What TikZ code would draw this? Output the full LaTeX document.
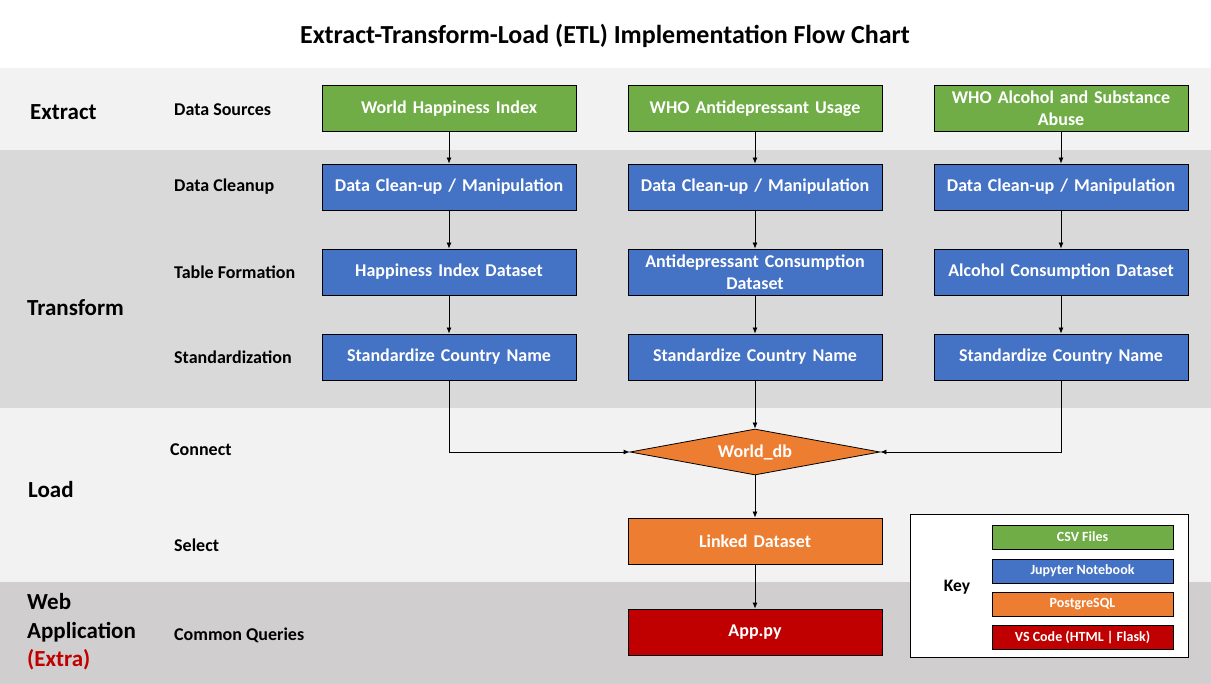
\documentclass[tikz,border=0pt]{standalone}
\usepackage{fontspec}
\setmainfont{Carlito}
\usetikzlibrary{shapes.geometric,arrows.meta}
\definecolor{cgreen}{HTML}{70AD47}
\definecolor{cblue}{HTML}{4472C4}
\definecolor{corange}{HTML}{ED7D31}
\definecolor{cred}{HTML}{C00000}
\definecolor{bandlight}{HTML}{F2F2F2}
\definecolor{banddark}{HTML}{D9D9D9}
\definecolor{bandweb}{HTML}{D0CECE}
\tikzset{
  boxbase/.style={draw=black, line width=0.8pt, minimum width=254pt, minimum height=46pt, inner sep=1pt, text=white, align=center, font=\fontsize{18}{22}\selectfont\bfseries, text width=250pt},
  srcbox/.style={boxbase, fill=cgreen},
  nbbox/.style={boxbase, fill=cblue},
  sqlbox/.style={boxbase, fill=corange},
  webbox/.style={boxbase, fill=cred},
  keybox/.style={draw=black, line width=0.8pt, minimum width=181pt, minimum height=24pt, inner sep=1pt, text=white, font=\fontsize{14}{16}\selectfont\bfseries},
  rowlabel/.style={anchor=west, font=\fontsize{18}{20}\selectfont\bfseries, inner sep=0pt},
  seclabel/.style={anchor=west, font=\fontsize{23}{28.5}\selectfont\bfseries, inner sep=0pt, align=left},
  flow/.style={draw=black, line width=0.8pt, -{Latex[length=6pt,width=5pt]}}
}
\begin{document}
\begin{tikzpicture}[x=1pt,y=-1pt]
\useasboundingbox (0,0) rectangle (1211,684);
\fill[white] (0,0) rectangle (1211,68);
\fill[bandlight] (0,68) rectangle (1211,150);
\fill[banddark] (0,150) rectangle (1211,408);
\fill[bandlight] (0,408) rectangle (1211,582);
\fill[bandweb] (0,582) rectangle (1211,684);

\node[font=\fontsize{26}{30}\selectfont\bfseries] (title) at (605,36) {Extract-Transform-Load (ETL) Implementation Flow Chart};

% section labels
\node[seclabel] (extract) at (30,112) {Extract};
\node[seclabel] (transform) at (27,308) {Transform};
\node[seclabel] (load) at (28,490) {Load};
\node[seclabel] (web) at (27,632) {Web\\Application\\\textcolor{cred}{(Extra)}};

% row labels
\node[rowlabel] (lsrc) at (174,110) {Data Sources};
\node[rowlabel] (lclean) at (174,187) {Data Cleanup};
\node[rowlabel] (ltable) at (174,272) {Table Formation};
\node[rowlabel] (lstd) at (174,357) {Standardization};
\node[rowlabel] (lconn) at (170,450) {Connect};
\node[rowlabel] (lsel) at (174,545) {Select};
\node[rowlabel] (lcq) at (174,635) {Common Queries};

% column 1
\node[srcbox] (s1) at (449,108.5) {World Happiness Index};
\node[nbbox] (c1) at (449,187) {Data Clean-up / Manipulation};
\node[nbbox] (t1) at (449,272) {Happiness Index Dataset};
\node[nbbox] (d1) at (449,357) {Standardize Country Name};
% column 2
\node[srcbox] (s2) at (755,108.5) {WHO Antidepressant Usage};
\node[nbbox] (c2) at (755,187) {Data Clean-up / Manipulation};
\node[nbbox] (t2) at (755,272) {Antidepressant Consumption\\Dataset};
\node[nbbox] (d2) at (755,357) {Standardize Country Name};
% column 3
\node[srcbox] (s3) at (1061,108.5) {WHO Alcohol and Substance\\Abuse};
\node[nbbox] (c3) at (1061,187) {Data Clean-up / Manipulation};
\node[nbbox] (t3) at (1061,272) {Alcohol Consumption Dataset};
\node[nbbox] (d3) at (1061,357) {Standardize Country Name};

\node[diamond, aspect=5.4, draw=black, line width=0.8pt, fill=corange, minimum width=250pt, minimum height=46pt, inner sep=0pt, text=white, font=\fontsize{18}{20}\selectfont\bfseries] (db) at (755,452) {World\_db};
\node[sqlbox] (linked) at (755,541) {Linked Dataset};
\node[webbox] (app) at (755,632) {App.py};

% arrows
\foreach \a/\b in {s1/c1,c1/t1,t1/d1,s2/c2,c2/t2,t2/d2,s3/c3,c3/t3,t3/d3}
  \draw[flow] (\a) -- (\b);
\draw[flow] (d2) -- (db.north);
\draw[flow] (d1.south) |- (db.west);
\draw[flow] (d3.south) |- (db.east);
\draw[flow] (db.south) -- (linked);
\draw[flow] (linked) -- (app);

% key
\node[draw=black, line width=0.8pt, fill=white, minimum width=278pt, minimum height=143pt, inner sep=0pt] (keyframe) at (1049,585.5) {};
\node[font=\fontsize{17.5}{20}\selectfont\bfseries] (keylbl) at (957,587) {Key};
\node[keybox, fill=cgreen] (k1) at (1082.5,537) {CSV Files};
\node[keybox, fill=cblue] (k2) at (1082.5,571) {Jupyter Notebook};
\node[keybox, fill=corange] (k3) at (1082.5,604) {PostgreSQL};
\node[keybox, fill=cred] (k4) at (1082.5,637) {VS Code (HTML | Flask)};
\end{tikzpicture}
\end{document}
